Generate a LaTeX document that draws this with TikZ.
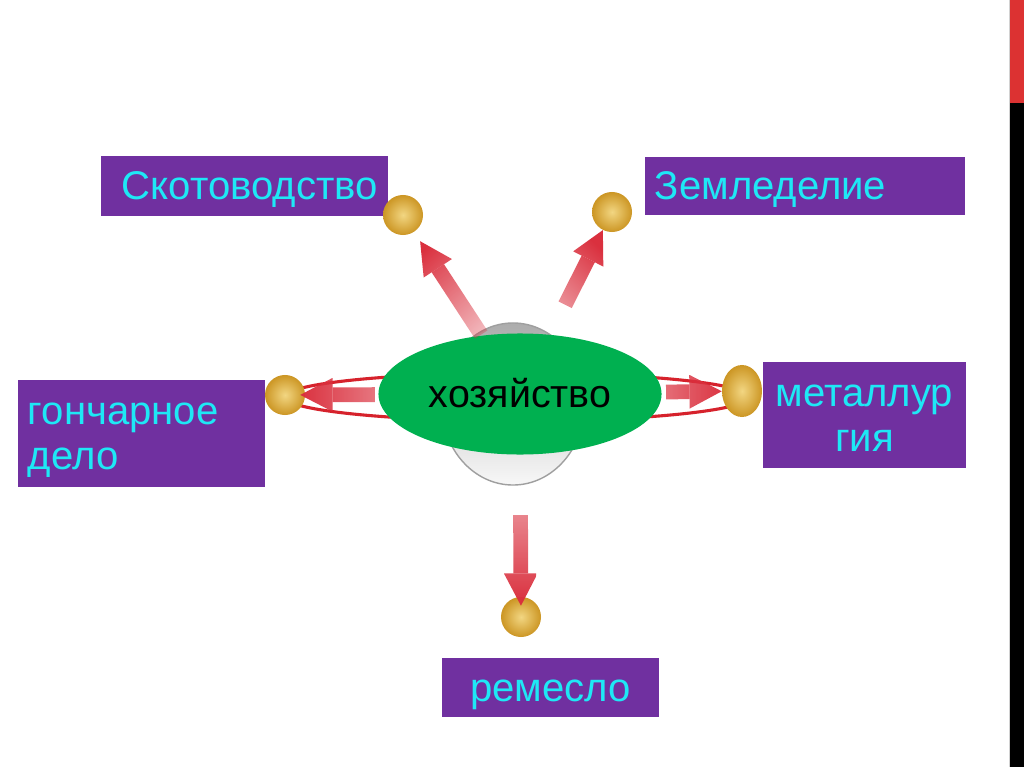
\documentclass[tikz,border=0pt]{standalone}
\usepackage{fontspec}
\setmainfont{Liberation Sans}
\usetikzlibrary{arrows.meta, shapes.geometric, fadings}
\definecolor{boxviolet}{RGB}{112,48,160}
\definecolor{boxtext}{RGB}{30,232,245}
\definecolor{hubgreen}{RGB}{0,176,80}
\definecolor{ringred}{RGB}{214,34,44}
\definecolor{arrowred}{RGB}{218,48,62}
\definecolor{ballin}{RGB}{242,214,130}
\definecolor{ballout}{RGB}{204,150,36}
\definecolor{stripred}{RGB}{220,50,50}
\newcommand{\ascstrut}{\rule{0pt}{25.8pt}}
\newcommand{\descstrut}{\rule[-6pt]{0pt}{6pt}}
\tikzfading[name=arrowfade, left color=transparent!100,
  middle color=transparent!60, right color=transparent!0]
\tikzstyle{lbox}=[rectangle, fill=boxviolet, text=boxtext, inner sep=0pt,
  font=\fontsize{28.5}{32}\selectfont]
\tikzstyle{hubst}=[ellipse, fill=hubgreen, inner sep=0pt,
  minimum width=7.075cm, minimum height=3.025cm,
  font=\fontsize{28}{32}\selectfont]
\tikzstyle{basest}=[ellipse, draw=gray!75, line width=1pt,
  top color=gray!65, bottom color=gray!6,
  minimum width=3.575cm, minimum height=4.05cm]
\tikzstyle{ball}=[circle, minimum size=1cm, inner sep=0pt,
  inner color=ballin, outer color=ballout]
\tikzstyle{farr}=[line width=10.5pt, arrowred,
  -{Triangle[length=23pt, width=24pt, line width=0pt]}, path fading=arrowfade]

\begin{document}
\begin{tikzpicture}[x=0.025cm, y=-0.025cm]
  \useasboundingbox (0,0) rectangle (1024,767);
  \fill[white] (0,0) rectangle (1024,767);
  \draw[gray!35, line width=0.6pt] (1009.5,0) -- (1009.5,767);
  \fill[stripred] (1010,0) rectangle (1024,103);
  \fill[black] (1010,103) rectangle (1024,767);

  \draw[ringred, line width=2.2pt] (517,397) ellipse [x radius=5.8cm, y radius=0.6cm];
  \node[basest] (base) at (513,404) {};
  \node[hubst] (hub) at (520,394) {\ascstrut хозяйство\descstrut};

  \node[lbox, minimum width=7.175cm, minimum height=1.475cm,
    text width=6.125cm, align=left]
    (skot) at (244.5,186) {\ascstrut Скотоводство\descstrut};
  \node[lbox, minimum width=8cm, minimum height=1.45cm,
    text width=7.5cm, align=left]
    (zeml) at (805,186) {\ascstrut Земледелие\descstrut};
  \node[lbox, minimum width=6.175cm, minimum height=2.675cm,
    text width=5.675cm, align=left]
    (gonch) at (141.5,433.5) {\ascstrut гончарное\\дело\descstrut};
  \node[lbox, minimum width=5.075cm, minimum height=2.65cm, align=center]
    (metal) at (864.5,415) {\ascstrut металлур\\гия\descstrut};
  \node[lbox, minimum width=5.425cm, minimum height=1.475cm]
    (remes) at (550.5,687.5) {\ascstrut ремесло\descstrut};

  \node[ball] (bskot) at (403,215) {};
  \node[ball] (bzeml) at (612,212) {};
  \node[ball] (bgonch) at (285,395) {};
  \node[ball, ellipse, minimum height=1.3cm] (bmetal) at (742,391) {};
  \node[ball] (bremes) at (521,617) {};

  \draw[farr, fading angle=123, shorten <=1.775cm, shorten >=0.275cm] (hub.center) -- (bskot);
  \draw[farr, fading angle=63, shorten <=2.5cm] (hub.center) -- (bzeml);
  \draw[farr, fading angle=180, shorten <=3.625cm, shorten >=-0.125cm] (hub.center) -- (bgonch);
  \draw[farr, fading angle=0, shorten <=3.65cm] (hub.center) -- (bmetal);
  \draw[farr, fading angle=270, shorten <=3.025cm, shorten >=-0.225cm] (hub.center) -- (bremes);
\end{tikzpicture}
\end{document}
